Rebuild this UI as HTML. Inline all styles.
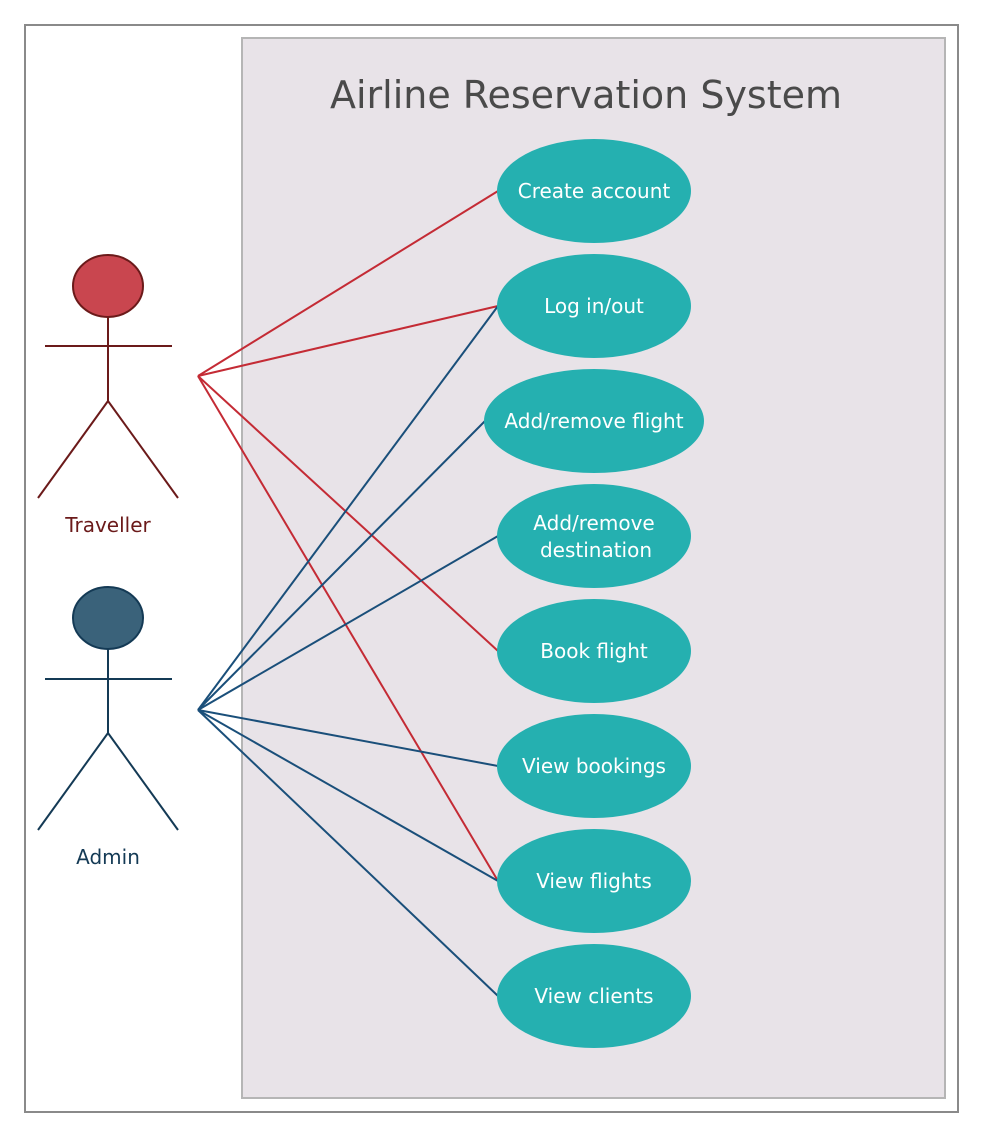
<!DOCTYPE html>
<html><head><meta charset="utf-8"><style>
html,body{margin:0;padding:0;background:#fff;}
svg{display:block;font-family:"DejaVu Sans","Liberation Sans",sans-serif;}
</style></head><body>
<svg width="984" height="1137" viewBox="0 0 984 1137">
<rect x="25" y="25" width="933" height="1087" fill="#fff" stroke="#8a8a8a" stroke-width="2"/>
<rect x="242" y="38" width="703" height="1060" fill="#e8e3e8" stroke="#b5b5b5" stroke-width="2"/>
<text x="586" y="108" text-anchor="middle" font-size="38" fill="#4a4a4a">Airline Reservation System</text>
<g stroke="#c42b35" stroke-width="2">
<line x1="198" y1="376" x2="498" y2="191"/><line x1="198" y1="376" x2="498" y2="306"/>
<line x1="198" y1="376" x2="498" y2="651"/><line x1="198" y1="376" x2="498" y2="881"/>
</g>
<g stroke="#1a4f7a" stroke-width="2">
<line x1="198" y1="710" x2="498" y2="306"/><line x1="198" y1="710" x2="485" y2="421"/>
<line x1="198" y1="710" x2="498" y2="536"/><line x1="198" y1="710" x2="498" y2="766"/>
<line x1="198" y1="710" x2="498" y2="881"/><line x1="198" y1="710" x2="498" y2="996"/>
</g>
<g font-size="20" fill="#fff" text-anchor="middle">
<g><ellipse cx="594" cy="191" rx="97" ry="52" fill="#25b0b0"/><text x="594" y="198">Create account</text></g>
<g><ellipse cx="594" cy="306" rx="97" ry="52" fill="#25b0b0"/><text x="594" y="313">Log in/out</text></g>
<g><ellipse cx="594" cy="421" rx="110" ry="52" fill="#25b0b0"/><text x="594" y="428">Add/remove flight</text></g>
<g><ellipse cx="594" cy="536" rx="97" ry="52" fill="#25b0b0"/><text x="594" y="530">Add/remove</text><text x="596" y="557">destination</text></g>
<g><ellipse cx="594" cy="651" rx="97" ry="52" fill="#25b0b0"/><text x="594" y="658">Book flight</text></g>
<g><ellipse cx="594" cy="766" rx="97" ry="52" fill="#25b0b0"/><text x="594" y="773">View bookings</text></g>
<g><ellipse cx="594" cy="881" rx="97" ry="52" fill="#25b0b0"/><text x="594" y="888">View flights</text></g>
<g><ellipse cx="594" cy="996" rx="97" ry="52" fill="#25b0b0"/><text x="594" y="1003">View clients</text></g>
</g>
<g stroke="#6b1a1a" stroke-width="2" fill="none">
<ellipse cx="108" cy="286" rx="35" ry="31" fill="#c9464f"/>
<line x1="108" y1="317" x2="108" y2="401"/><line x1="45" y1="346" x2="172" y2="346"/>
<line x1="108" y1="401" x2="38" y2="498"/><line x1="108" y1="401" x2="178" y2="498"/>
</g>
<text x="108" y="532" text-anchor="middle" font-size="20" fill="#6b1a1a">Traveller</text>
<g stroke="#143a55" stroke-width="2" fill="none">
<ellipse cx="108" cy="618" rx="35" ry="31" fill="#3a627a"/>
<line x1="108" y1="649" x2="108" y2="733"/><line x1="45" y1="679" x2="172" y2="679"/>
<line x1="108" y1="733" x2="38" y2="830"/><line x1="108" y1="733" x2="178" y2="830"/>
</g>
<text x="108" y="864" text-anchor="middle" font-size="20" fill="#143a55">Admin</text>
</svg>
</body></html>
